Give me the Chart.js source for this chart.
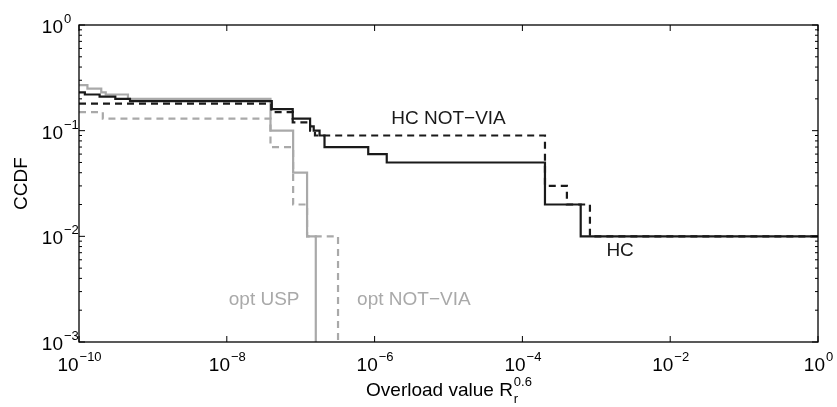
<!DOCTYPE html>
<html>
<head>
<meta charset="utf-8">
<script src="https://cdn.jsdelivr.net/npm/chart.js@4.4.0/dist/chart.umd.min.js"></script>
<style>
  html, body { margin: 0; padding: 0; background: #fff; }
  canvas { display: block; }
</style>
</head>
<body>
<canvas id="ccdf" width="837" height="407"></canvas>
<script>
// each point = where a CCDF level starts (x) and the level (y)
const ZERO = 1e-4; // below the axis, the curve falls to 0 there

const hcX = [1e-10, 1.2e-10, 1.9e-10, 3.1e-10, 4.9e-10, 4.06e-8, 7.8e-8, 1.34e-7, 1.5e-7, 1.8e-7, 2.1e-7, 8.2e-7, 1.46e-6, 2.02e-4, 6.15e-4, 1];
const hcY = [0.23, 0.22, 0.21, 0.20, 0.19, 0.16, 0.13, 0.11, 0.10, 0.09, 0.07, 0.06, 0.05, 0.02, 0.01, 0.01];

const hcNvX = [1e-10, 4.0e-8, 7.8e-8, 1.34e-7, 1.56e-7, 2.02e-4, 4.0e-4, 8.2e-4, 1];
const hcNvY = [0.18, 0.15, 0.12, 0.10, 0.09, 0.03, 0.02, 0.01, 0.01];

const uspX = [1e-10, 1.3e-10, 2.0e-10, 2.3e-10, 4.6e-10, 3.9e-8, 7.9e-8, 1.22e-7, 1.6e-7];
const uspY = [0.27, 0.25, 0.23, 0.22, 0.20, 0.10, 0.04, 0.01, ZERO];

const optNvX = [1e-10, 2.1e-10, 3.9e-8, 7.9e-8, 1.22e-7, 3.2e-7];
const optNvY = [0.15, 0.13, 0.07, 0.02, 0.01, ZERO];

const xTicks = [1e-10, 1e-8, 1e-6, 1e-4, 1e-2, 1];
const yTicks = [1e-3, 1e-2, 1e-1, 1];

// text labels placed in data coordinates
const notes = [
  { text: 'HC NOT\u2212VIA', x: 1.0e-5, y: 0.129, color: '#1a1a1a' },
  { text: 'HC', x: 2.1e-3, y: 0.0073, color: '#1a1a1a' },
  { text: 'opt USP', x: 3.2e-8, y: 0.0025, color: '#a9a9a9' },
  { text: 'opt NOT\u2212VIA', x: 3.4e-6, y: 0.0025, color: '#a9a9a9' }
];

const BLACK = '#1a1a1a';
const GRAY = '#a9a9a9';
const FONT = '"Liberation Sans", Arial, Helvetica, sans-serif';

function pts(xs, ys) {
  return xs.map((v, i) => ({ x: v, y: ys[i] }));
}

function expText(v) {
  return String(Math.round(Math.log10(v))).replace('-', '\u2212');
}

const axesPlugin = {
  id: 'axesPlugin',
  afterDatasetsDraw(chart) {
    const { ctx, chartArea: a, scales: { x, y } } = chart;
    ctx.save();

    // frame
    ctx.strokeStyle = '#000';
    ctx.lineWidth = 1.3;
    ctx.strokeRect(a.left, a.top, a.right - a.left, a.bottom - a.top);

    // inward ticks
    ctx.lineWidth = 1;
    ctx.beginPath();
    xTicks.forEach(v => {
      const px = x.getPixelForValue(v);
      ctx.moveTo(px, a.bottom); ctx.lineTo(px, a.bottom - 6);
      ctx.moveTo(px, a.top); ctx.lineTo(px, a.top + 6);
    });
    yTicks.forEach(v => {
      const py = y.getPixelForValue(v);
      ctx.moveTo(a.left, py); ctx.lineTo(a.left + 6, py);
      ctx.moveTo(a.right, py); ctx.lineTo(a.right - 6, py);
      if (v < 1) {
        for (let m = 2; m <= 9; m++) {
          const pm = y.getPixelForValue(v * m);
          ctx.moveTo(a.left, pm); ctx.lineTo(a.left + 3, pm);
          ctx.moveTo(a.right, pm); ctx.lineTo(a.right - 3, pm);
        }
      }
    });
    ctx.stroke();

    // tick labels
    ctx.fillStyle = '#000';
    ctx.textBaseline = 'alphabetic';
    xTicks.forEach(v => {
      const px = x.getPixelForValue(v);
      const e = expText(v);
      ctx.font = '19px ' + FONT;
      const wb = ctx.measureText('10').width;
      ctx.font = '13px ' + FONT;
      const we = ctx.measureText(e).width;
      const left = px - (wb + we) / 2;
      ctx.textAlign = 'left';
      ctx.font = '19px ' + FONT;
      ctx.fillText('10', left, a.bottom + 29);
      ctx.font = '13px ' + FONT;
      ctx.fillText(e, left + wb + 1, a.bottom + 19);
    });
    yTicks.forEach(v => {
      const py = y.getPixelForValue(v);
      const e = expText(v);
      ctx.font = '19px ' + FONT;
      ctx.textAlign = 'right';
      ctx.fillText('10', a.left - 16, py + 8);
      ctx.font = '13px ' + FONT;
      ctx.textAlign = 'left';
      ctx.fillText(e, a.left - 15, py - 2);
    });

    // axis titles
    ctx.font = '19px ' + FONT;
    ctx.textAlign = 'left';
    const t1 = 'Overload value R';
    const w1 = ctx.measureText(t1).width;
    ctx.font = '13px ' + FONT;
    const w2 = ctx.measureText('0.6').width;
    const cx = (a.left + a.right) / 2;
    const tx = cx - (w1 + w2) / 2;
    ctx.font = '19px ' + FONT;
    ctx.fillText(t1, tx, a.bottom + 54);
    ctx.font = '13px ' + FONT;
    ctx.fillText('0.6', tx + w1 + 1, a.bottom + 44);
    ctx.fillText('r', tx + w1 + 1, a.bottom + 61);

    ctx.save();
    ctx.translate(22, (a.top + a.bottom) / 2);
    ctx.rotate(-Math.PI / 2);
    ctx.font = '19px ' + FONT;
    ctx.textAlign = 'center';
    ctx.textBaseline = 'middle';
    ctx.fillText('CCDF', 0, 0);
    ctx.restore();

    // curve labels
    ctx.font = '19px ' + FONT;
    ctx.textAlign = 'center';
    ctx.textBaseline = 'middle';
    notes.forEach(n => {
      ctx.fillStyle = n.color;
      ctx.fillText(n.text, x.getPixelForValue(n.x), y.getPixelForValue(n.y));
    });

    ctx.restore();
  }
};

const line = (label, data, color, dash) => ({
  label,
  data,
  borderColor: color,
  borderWidth: 2.2,
  borderDash: dash,
  stepped: 'before',
  pointRadius: 0,
  fill: false
});

new Chart(document.getElementById('ccdf'), {
  type: 'line',
  data: {
    datasets: [
      line('HC', pts(hcX, hcY), BLACK, []),
      line('HC NOT-VIA', pts(hcNvX, hcNvY), BLACK, [7, 5]),
      line('opt USP', pts(uspX, uspY), GRAY, []),
      line('opt NOT-VIA', pts(optNvX, optNvY), GRAY, [7, 5])
    ]
  },
  options: {
    responsive: false,
    devicePixelRatio: 1,
    animation: false,
    layout: { padding: { left: 79, top: 25, right: 19, bottom: 65 } },
    plugins: { legend: { display: false }, tooltip: { enabled: false } },
    scales: {
      x: { type: 'logarithmic', min: 1e-10, max: 1, display: false },
      y: { type: 'logarithmic', min: 1e-3, max: 1, display: false }
    }
  },
  plugins: [axesPlugin]
});
</script>
</body>
</html>
